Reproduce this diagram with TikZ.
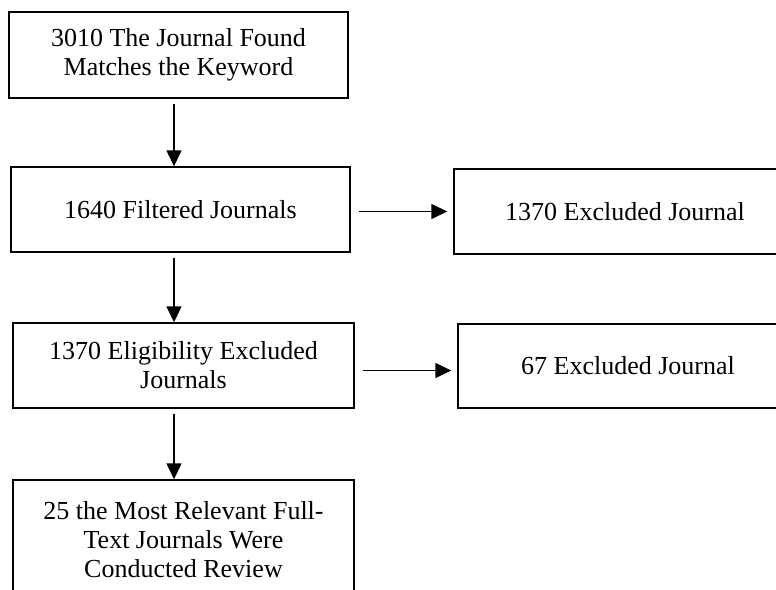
\documentclass[tikz,border=0pt]{standalone}
\usepackage{fontspec}
\setmainfont{Liberation Serif}
\usetikzlibrary{arrows.meta}

\begin{document}
\begin{tikzpicture}[x=1pt, y=-1pt, >={Triangle[length=16pt,width=15pt]},
  font=\fontsize{26}{29}\selectfont,
  b/.style={draw, line width=1.4pt, align=center, inner sep=0pt, minimum height=85pt},
  arr/.style={->, line width=1.4pt}]
  \useasboundingbox (0,0) rectangle (776,589);
  \clip (0,0) rectangle (776,589);
  \coordinate (col) at (174,0);
  \node[b, minimum width=339pt, minimum height=86pt] (found) at (178.5,55) {3010 The Journal Found\\Matches the Keyword};
  \node[b, minimum width=339pt] (filt)  at (180.5,209.5) {1640 Filtered Journals};
  \node[b, minimum width=342pt] (excl1) at (625,211.5)   {1370 Excluded Journal};
  \node[b, minimum width=341pt] (elig)  at (183.5,365.5) {1370 Eligibility Excluded\\Journals};
  \node[b, minimum width=340pt, minimum height=84pt] (excl2) at (628,366) {67 Excluded Journal};
  \node[b, minimum width=341pt, minimum height=120pt] (rev) at (183.5,540) {25 the Most Relevant Full-\\Text Journals Were\\Conducted Review};
  \draw[arr, shorten <=5pt] (found.south -| col) -- (filt.north -| col);
  \draw[arr, shorten <=5pt] (filt.south -| col) -- (elig.north -| col);
  \draw[arr, shorten <=5pt] (elig.south -| col) -- (rev.north -| col);
  \draw[arr, shorten <=8pt, shorten >=6pt] ([yshift=-2pt]filt.east) -- ([yshift=-2pt]filt.east -| excl1.west);
  \draw[arr, shorten <=8pt, shorten >=6pt] ([yshift=-5pt]elig.east) -- ([yshift=-5pt]elig.east -| excl2.west);
\end{tikzpicture}
\end{document}
